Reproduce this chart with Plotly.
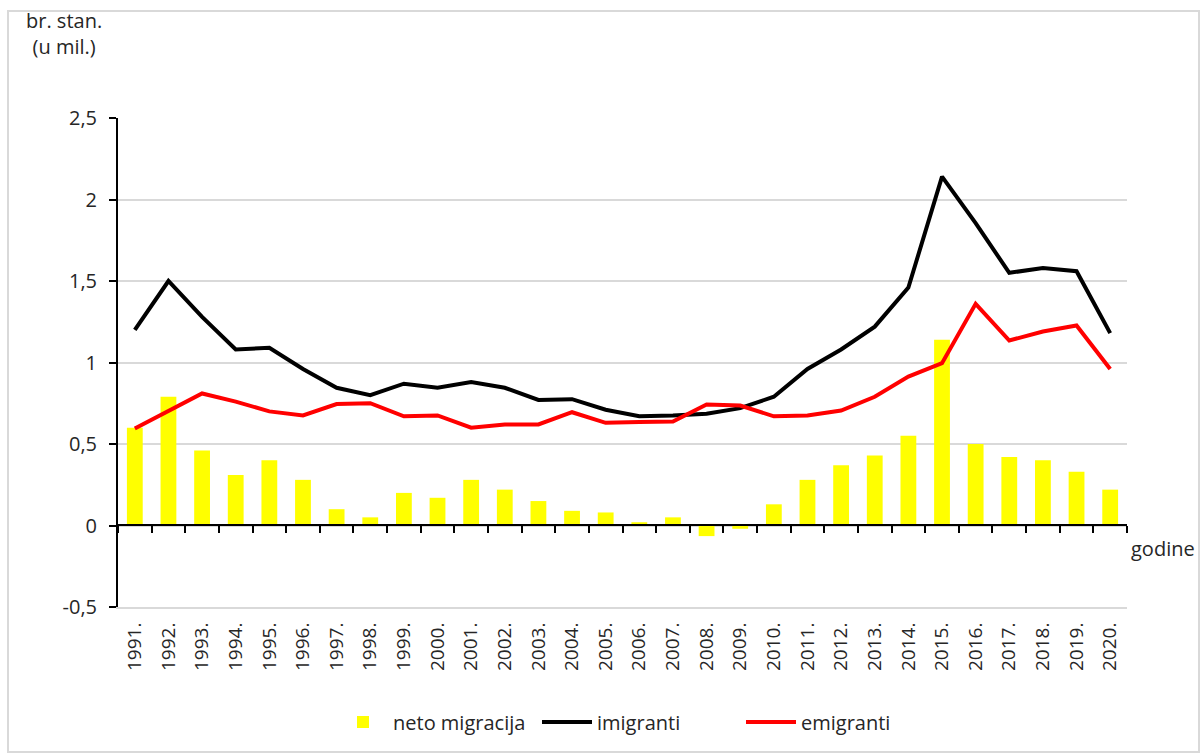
import plotly.graph_objects as go

# godine
years = ["1991.", "1992.", "1993.", "1994.", "1995.", "1996.", "1997.", "1998.", "1999.", "2000.",
         "2001.", "2002.", "2003.", "2004.", "2005.", "2006.", "2007.", "2008.", "2009.", "2010.",
         "2011.", "2012.", "2013.", "2014.", "2015.", "2016.", "2017.", "2018.", "2019.", "2020."]

# milijuni stanovnika
neto_migracija = [0.60, 0.79, 0.46, 0.31, 0.40, 0.28, 0.10, 0.05, 0.20, 0.17,
                  0.28, 0.22, 0.15, 0.09, 0.08, 0.02, 0.05, -0.065, -0.02, 0.13,
                  0.28, 0.37, 0.43, 0.55, 1.14, 0.50, 0.42, 0.40, 0.33, 0.22]
imigranti = [1.20, 1.50, 1.28, 1.08, 1.09, 0.96, 0.845, 0.80, 0.87, 0.845,
             0.88, 0.845, 0.77, 0.775, 0.71, 0.67, 0.675, 0.685, 0.72, 0.79,
             0.96, 1.08, 1.22, 1.46, 2.14, 1.855, 1.55, 1.58, 1.56, 1.18]
emigranti = [0.595, 0.705, 0.81, 0.76, 0.70, 0.675, 0.745, 0.75, 0.67, 0.675,
             0.60, 0.62, 0.62, 0.695, 0.63, 0.635, 0.638, 0.742, 0.736, 0.67,
             0.675, 0.705, 0.79, 0.914, 0.996, 1.36, 1.135, 1.19, 1.227, 0.96]

y_ticks = [-0.5, 0, 0.5, 1, 1.5, 2, 2.5]
y_labels = ["-0,5", "0", "0,5", "1", "1,5", "2", "2,5"]

FONT = "Open Sans"
TXT = "#262626"

# plot area in pixels (1200x753 page)
L, R, T, B = 118, 1127, 118, 607


def px_x(x):
    return (x - L) / (R - L)


def px_y(y):
    return (B - y) / (B - T)


fig = go.Figure()

fig.add_trace(go.Bar(x=years, y=neto_migracija, name="neto migracija",
                     marker=dict(color="#FFFF00", line_width=0)))
fig.add_trace(go.Scatter(x=years, y=imigranti, name="imigranti", mode="lines",
                         line=dict(color="#000000", width=4), xaxis="x2"))
fig.add_trace(go.Scatter(x=years, y=emigranti, name="emigranti", mode="lines",
                         line=dict(color="#FF0000", width=4), xaxis="x2"))

fig.update_layout(
    width=1200, height=753,
    margin=dict(l=L, r=1200 - R, t=T, b=753 - B),
    paper_bgcolor="white", plot_bgcolor="white",
    font=dict(family=FONT, size=20, color=TXT),
    bargap=0.53,
    showlegend=True,
    legend=dict(orientation="h", x=px_x(639), xanchor="center", y=px_y(722), yanchor="middle",
                font=dict(family=FONT, size=20, color=TXT), itemwidth=50,
                entrywidth=139, entrywidthmode="pixels"),
    xaxis=dict(type="category", range=[-0.5, 29.5], tickangle=-90, ticks="",
               showgrid=False, showline=True, linecolor="#d9d9d9", linewidth=2,
               ticklabelstandoff=6, tickfont=dict(family=FONT, size=19, color=TXT)),
    xaxis2=dict(type="category", range=[-0.5, 29.5], overlaying="x", anchor="free",
                position=px_y(525), side="bottom", showticklabels=False,
                ticks="outside", tickson="boundaries", ticklen=7, tickwidth=2, tickcolor="black",
                showline=True, linecolor="black", linewidth=2, showgrid=False),
    yaxis=dict(range=[-0.5, 2.5], tickvals=y_ticks, ticktext=y_labels,
               ticks="outside", ticklen=7, tickwidth=2, tickcolor="black",
               showline=True, linecolor="black", linewidth=2,
               showgrid=True, gridcolor="#d9d9d9", gridwidth=2, zeroline=False,
               ticklabelstandoff=8, tickfont=dict(family=FONT, size=20, color=TXT)),
)

fig.add_annotation(text="br. stan.<br>(u mil.)", xref="paper", yref="paper",
                   x=px_x(64), y=px_y(5), xanchor="center", yanchor="top",
                   showarrow=False, align="center",
                   font=dict(family=FONT, size=20, color=TXT))
fig.add_annotation(text="godine", xref="paper", yref="paper",
                   x=px_x(1129), y=px_y(548), xanchor="left", yanchor="middle",
                   showarrow=False, font=dict(family=FONT, size=20, color=TXT))

# okvir grafikona
fig.add_shape(type="rect", xref="paper", yref="paper",
              x0=px_x(8), x1=px_x(1199), y0=px_y(752), y1=px_y(11),
              line=dict(color="#d9d9d9", width=2), layer="below")

fig.write_html("out.html", config={"displayModeBar": False},
               post_script="document.body.style.margin='0';")
